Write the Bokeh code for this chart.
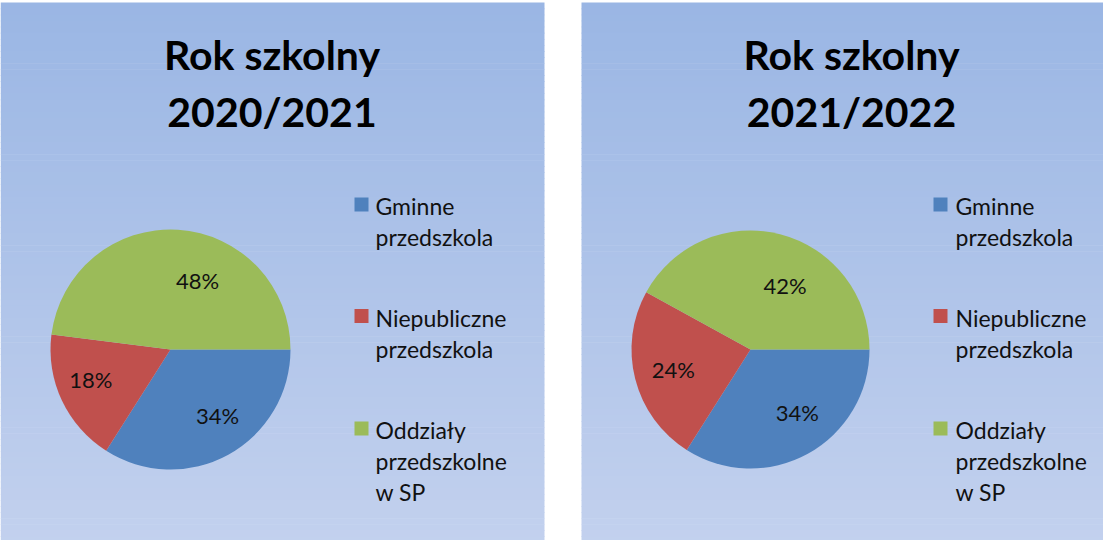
import math
from bokeh.plotting import figure
from bokeh.models import Range1d
from bokeh.core.properties import value
from bokeh.embed import file_html
from bokeh.resources import INLINE

# ---------------- data ----------------
categories = ["Gminne\nprzedszkola", "Niepubliczne\nprzedszkola", "Oddziały\nprzedszkolne\nw SP"]
titles = ["Rok szkolny\n2020/2021", "Rok szkolny\n2021/2022"]
values_2020 = [34, 18, 48]
values_2021 = [34, 24, 42]
colors = ["#4F81BD", "#C0504D", "#9BBB59"]

# ---------------- layout / style ----------------
W, H = 1103, 540
FONT = "Lato"
TOP_COL = (154, 182, 228)
BOT_COL = (195, 209, 238)

# page coords -> data coords helpers (page origin at top-left of window)
def dx(px):
    return px - 8

def dy(py):
    return 548 - py

panels = [
    dict(x0=7, x1=552, title_cx=279.5, cx=178, cy=357, r=120, leg_mx=369, leg_tx=383,
         vals=values_2020, nudges=[(9, -3), (-8, -4), (22, 10)]),
    dict(x0=589, x1=1134, title_cx=859, cx=758, cy=357, r=119, leg_mx=948, leg_tx=963,
         vals=values_2021, nudges=[(9, -6), (-1, 0), (15, 12)]),
]
panel_top, panel_bot = 10, 556
title_mid = [62, 119]
group_mid = [213.5, 325, 437.5]
line_pitch = 31

p = figure(width=W, height=H, output_backend="svg", toolbar_location=None,
           x_range=Range1d(0, W), y_range=Range1d(0, H), min_border=0)
p.axis.visible = False
p.grid.visible = False
p.outline_line_color = None
p.background_fill_color = "white"
p.border_fill_color = "white"

# gradient panels
N = 90
for pan in panels:
    ys = [panel_top + (panel_bot - panel_top) * i / N for i in range(N + 1)]
    lefts, rights, tops, bots, cols = [], [], [], [], []
    for i in range(N):
        t = (i + 0.5) / N
        c = tuple(int(round(a + (b - a) * t)) for a, b in zip(TOP_COL, BOT_COL))
        lefts.append(max(dx(pan["x0"]), 0))
        rights.append(min(dx(pan["x1"]), W))
        tops.append(min(dy(ys[i]), H))
        bots.append(max(dy(ys[i + 1]) - 0.6, 0))
        cols.append("#%02x%02x%02x" % c)
    p.quad(left=lefts, right=rights, top=tops, bottom=bots, fill_color=cols, line_color=None)

for k, pan in enumerate(panels):
    vals = pan["vals"]
    total = float(sum(vals))
    cum = 0.0
    starts, ends, lx, ly, labels = [], [], [], [], []
    for i, v in enumerate(vals):
        a0 = cum / total * 2 * math.pi
        cum += v
        a1 = cum / total * 2 * math.pi
        # clockwise from 3 o'clock
        starts.append(-a1)
        ends.append(-a0)
        mid = -(a0 + a1) / 2
        rr = 0.66 * pan["r"]
        nx, ny = pan["nudges"][i]
        lx.append(dx(pan["cx"]) + rr * math.cos(mid) + nx)
        ly.append(dy(pan["cy"]) + rr * math.sin(mid) - ny)
        labels.append("%d%%" % round(v / total * 100))
    p.wedge(x=[dx(pan["cx"])] * 3, y=[dy(pan["cy"])] * 3, radius=pan["r"],
            start_angle=starts, end_angle=ends, direction="anticlock",
            fill_color=colors, line_color=None)
    p.text(x=lx, y=ly, text=labels, text_font=value(FONT), text_font_size="22px",
           text_color="#111111", text_align="center", text_baseline="middle")

    # title
    tl = titles[k].split("\n")
    p.text(x=[dx(pan["title_cx"])] * len(tl), y=[dy(m) for m in title_mid], text=tl,
           text_font=value(FONT), text_font_style="bold", text_font_size="41px",
           text_color="#000000", text_align="center", text_baseline="middle")

    # legend
    mx, my = [], []
    tx, ty, tt = [], [], []
    for g, cat in enumerate(categories):
        mx.append(dx(pan["leg_mx"]))
        my.append(dy(group_mid[g] - 1.5))
        for j, line in enumerate(cat.split("\n")):
            tx.append(dx(pan["leg_tx"]))
            ty.append(dy(group_mid[g] + line_pitch * j))
            tt.append(line)
    p.scatter(x=mx, y=my, marker="square", size=14, fill_color=colors, line_color=None)
    p.text(x=tx, y=ty, text=tt, text_font=value(FONT), text_font_size="23px",
           text_color="#111111", text_align="left", text_baseline="middle")

open("out.html", "w").write(file_html(p, INLINE))
